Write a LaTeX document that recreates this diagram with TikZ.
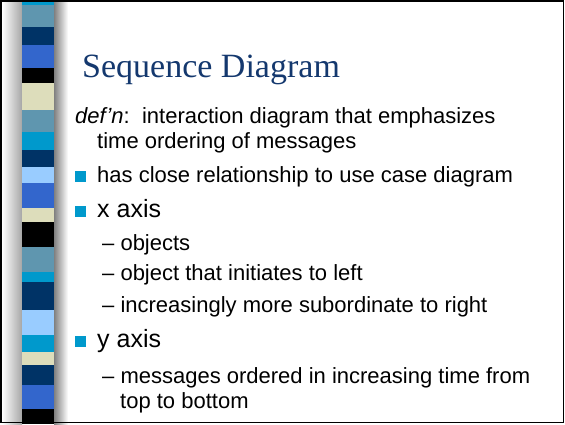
\documentclass[tikz,border=0pt]{standalone}
\usepackage{fontspec}
\setmainfont{Liberation Sans}
\newfontfamily\titlefont{Liberation Serif}
\definecolor{titleblue}{RGB}{20,56,110}
\definecolor{stripcyan}{HTML}{0099CC}
\definecolor{stripsteel}{RGB}{95,150,175}
\definecolor{stripnavy}{HTML}{003366}
\definecolor{stripblue}{HTML}{3366CC}
\definecolor{stripbeige}{HTML}{DDDDBB}
\definecolor{striplight}{HTML}{99CCFF}
\begin{document}
\begin{tikzpicture}[x=1pt, y=-1pt,
    txt/.style={anchor=base west, inner sep=0pt, font=\fontsize{22}{26}\selectfont},
    head/.style={anchor=base west, inner sep=0pt, font=\fontsize{25}{30}\selectfont},
    bul/.style={fill=stripcyan, minimum size=11pt, inner sep=0pt, anchor=south west}]
\useasboundingbox (0,0) rectangle (565,424);
\fill[white] (0,0) rectangle (565,424);
\shade[left color=white, right color=black!35] (2,0) rectangle (22,424);
\shade[left color=black!50, right color=white] (54,0) rectangle (68,424);
\foreach \ya/\yb/\c in {0/5/stripcyan, 5/27/stripsteel, 27/45/stripnavy, 45/68/stripblue,
    68/83/black, 83/110/stripbeige, 110/132/stripsteel, 132/150/stripcyan,
    150/167/stripnavy, 167/183/striplight, 183/208/stripblue, 208/222/stripbeige,
    222/247/black, 247/272/stripsteel, 272/282/stripcyan, 282/310/stripnavy,
    310/335/striplight, 335/352/stripcyan, 352/365/stripbeige, 365/385/stripnavy,
    385/409/stripblue, 409/424/black}
  \fill[\c] (22,\ya) rectangle (54,\yb);
\draw[line width=1.5pt] (0.75,0.75) rectangle (563.5,422.5);

\node[anchor=base west, inner sep=0pt, text=titleblue, font=\titlefont\fontsize{34}{40}\selectfont] (title) at (82,77) {Sequence Diagram};
\node[txt] (defn) at (75,123) {\textit{def'n}:\ \ interaction diagram that emphasizes};
\node[txt] (order) at (97,148) {time ordering of messages};
\node[bul] (b1) at (75,182) {};
\node[txt] (close) at (97,182) {has close relationship to use case diagram};
\node[bul] (b2) at (75,217) {};
\node[head] (xaxis) at (97,217) {x axis};
\node[txt] (objs) at (102,250) {-- objects};
\node[txt] (init) at (102,280) {-- object that initiates to left};
\node[txt] (subord) at (102,312) {-- increasingly more subordinate to right};
\node[bul] (b3) at (75,347) {};
\node[head] (yaxis) at (97,347) {y axis};
\node[txt] (msgs) at (102,383) {-- messages ordered in increasing time from};
\node[txt] (topbot) at (120,408) {top to bottom};
\end{tikzpicture}
\end{document}
